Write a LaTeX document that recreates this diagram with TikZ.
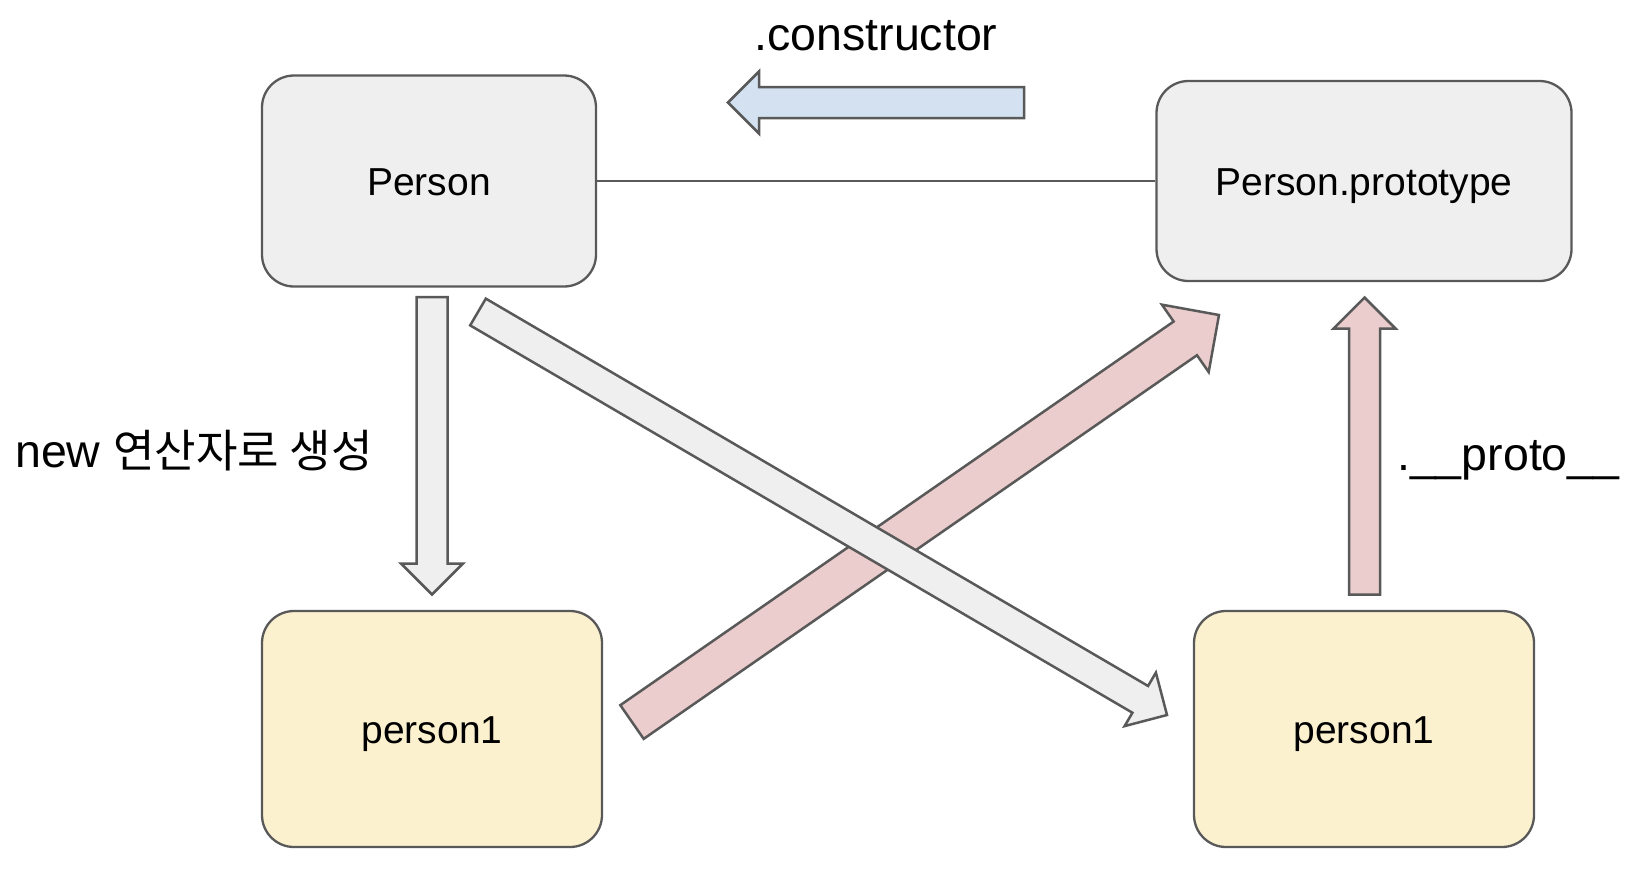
\documentclass[tikz,border=0pt]{standalone}
\usepackage{fontspec}
\setmainfont{Liberation Sans}
\newfontfamily\krfont{Noto Sans CJK KR}[Scale=0.97]
\usetikzlibrary{calc}

\definecolor{edgegray}{HTML}{595959}
\definecolor{boxgray}{HTML}{EFEFEF}
\definecolor{boxyellow}{HTML}{FCF1CF}
\definecolor{arrowblue}{HTML}{D3E1F1}
\definecolor{arrowpink}{HTML}{ECCDCD}

% block arrow from tail #2 to tip #3, #4 = half width of the shaft
\newcommand{\blockarrow}[4][]{%
  \coordinate (hb) at ($(#3)!2*#4!(#2)$);
  \draw[barrow,#1] ($(#2)!#4!90:(#3)$) -- ($(hb)!#4!90:(#3)$) -- ($(hb)!2*#4!90:(#3)$) -- (#3)
    -- ($(hb)!2*#4!-90:(#3)$) -- ($(hb)!#4!-90:(#3)$) -- ($(#2)!#4!-90:(#3)$) -- cycle;}

\begin{document}
\begin{tikzpicture}[x=1pt, y=-1pt,
	box/.style = {draw=edgegray, line width=2.3pt, rounded corners=32pt, inner sep=0pt,
		text height=28pt, text depth=0pt, font=\fontsize{39}{47}\selectfont},
	label/.style = {inner sep=0pt, font=\fontsize{46.5}{56}\selectfont},
	barrow/.style = {draw=edgegray, line width=2.5pt, line join=miter}]

	\useasboundingbox (0,0) rectangle (1644,873);

	\node[box, fill=boxgray, minimum width=334pt, minimum height=211pt] (person) at (429,181) {Person};
	\node[box, fill=boxgray, minimum width=415pt, minimum height=200pt] (proto) at (1364,181) {Person.prototype};
	\node[box, fill=boxyellow, minimum width=340pt, minimum height=236pt] (inst1) at (432,729) {person1};
	\node[box, fill=boxyellow, minimum width=340pt, minimum height=236pt] (inst2) at (1364,729) {person1};

	\draw[edgegray, line width=1.5pt] (person.east) -- (proto.west);

	% arrow end points
	\coordinate (ctail) at (1024,102.5);
	\coordinate (ctip) at (728,102.5);
	\coordinate (ntail) at (432,297);
	\coordinate (ntip) at (432,594.5);
	\coordinate (ptail) at (1364.5,594.5);
	\coordinate (ptip) at (1364.5,297.5);
	\coordinate (gtail) at (478,312);
	\coordinate (gtip) at (1167,715);
	\coordinate (rtail) at (632,722);
	\coordinate (rtip) at (1219,315);

	\blockarrow[fill=arrowblue]{ctail}{ctip}{15.5pt}
	\blockarrow[fill=boxgray]{ntail}{ntip}{15.5pt}
	\blockarrow[fill=arrowpink]{ptail}{ptip}{15.5pt}
	\blockarrow[fill=arrowpink]{rtail}{rtip}{20.5pt}
	\blockarrow[fill=boxgray]{gtail}{gtip}{15.5pt}

	\node[label, anchor=base] (ctor) at (876,50) {.constructor};
	\node[label, anchor=base west] (newop) at (15,467) {new {\krfont 연산자로 생성}};
	\node[label, anchor=base west] (dproto) at (1397,470) {.\_\_proto\_\_};

\end{tikzpicture}
\end{document}
